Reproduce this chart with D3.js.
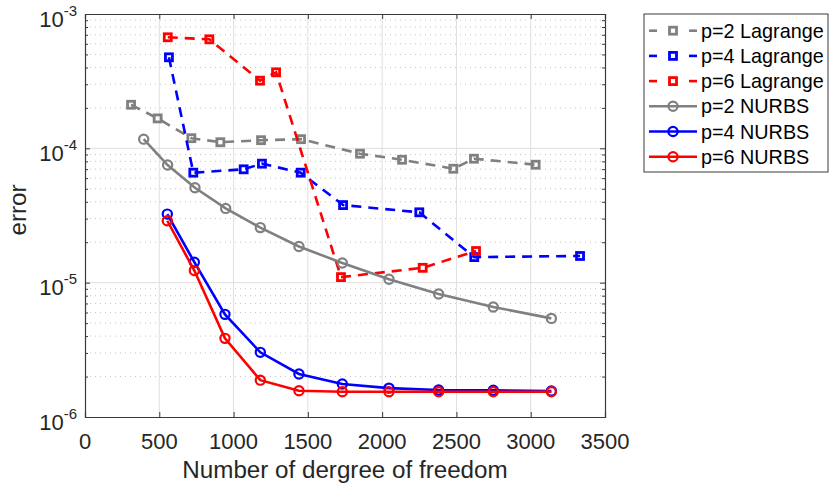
<!DOCTYPE html>
<html>
<head>
<meta charset="utf-8">
<script src="https://cdn.jsdelivr.net/npm/d3@7"></script>
<style>
  html, body { margin: 0; padding: 0; background: #fff; }
  svg { display: block; font-family: "Liberation Sans", Arial, Helvetica, sans-serif; }
</style>
</head>
<body>
<svg id="chart" width="829" height="489"></svg>
<script>
// ---- Data ----
const lag2X = [310, 489, 716, 911, 1185, 1454, 1851, 2134, 2479, 2618, 3033];
const lag2Y = [2.11e-4, 1.67e-4, 1.19e-4, 1.11e-4, 1.15e-4, 1.17e-4, 9.12e-5, 8.22e-5, 7.05e-5, 8.37e-5, 7.55e-5];
const lag4X = [565, 729, 1068, 1191, 1452, 1737, 2250, 2620, 3332];
const lag4Y = [4.76e-4, 6.59e-5, 6.98e-5, 7.69e-5, 6.59e-5, 3.78e-5, 3.34e-5, 1.55e-5, 1.58e-5];
const lag6X = [557, 837, 1178, 1286, 1723, 2273, 2632];
const lag6Y = [6.71e-4, 6.48e-4, 3.19e-4, 3.68e-4, 1.10e-5, 1.29e-5, 1.72e-5];
const nurbs2X = [395, 556, 740, 947, 1180, 1440, 1732, 2046, 2380, 2748, 3139];
const nurbs2Y = [1.17e-4, 7.51e-5, 5.09e-5, 3.57e-5, 2.57e-5, 1.86e-5, 1.40e-5, 1.06e-5, 8.24e-6, 6.59e-6, 5.42e-6];
const nurbs46X = [554, 736, 942, 1180, 1440, 1732, 2046, 2380, 2748, 3139];
const nurbs4Y = [3.24e-5, 1.42e-5, 5.81e-6, 3.03e-6, 2.09e-6, 1.76e-6, 1.64e-6, 1.59e-6, 1.58e-6, 1.56e-6];
const nurbs6Y = [2.89e-5, 1.23e-5, 3.85e-6, 1.88e-6, 1.57e-6, 1.54e-6, 1.54e-6, 1.54e-6, 1.54e-6, 1.54e-6];

const seriesNames = ["p=2 Lagrange", "p=4 Lagrange", "p=6 Lagrange", "p=2 NURBS", "p=4 NURBS", "p=6 NURBS"];
const xTicks = [0, 500, 1000, 1500, 2000, 2500, 3000, 3500];
const yTickExps = [-3, -4, -5, -6];
const xLabel = "Number of dergree of freedom";
const yLabel = "error";

const series = [
  { name: seriesNames[0], x: lag2X, y: lag2Y, color: "#808080", dashed: true, marker: "square" },
  { name: seriesNames[1], x: lag4X, y: lag4Y, color: "#0000ff", dashed: true, marker: "square" },
  { name: seriesNames[2], x: lag6X, y: lag6Y, color: "#ff0000", dashed: true, marker: "square" },
  { name: seriesNames[3], x: nurbs2X, y: nurbs2Y, color: "#808080", dashed: false, marker: "circle" },
  { name: seriesNames[4], x: nurbs46X, y: nurbs4Y, color: "#0000ff", dashed: false, marker: "circle" },
  { name: seriesNames[5], x: nurbs46X, y: nurbs6Y, color: "#ff0000", dashed: false, marker: "circle" }
];

// ---- Layout ----
const L = 85, R = 605, T = 14, B = 417;
const svg = d3.select("#chart");
const x = d3.scaleLinear().domain([0, 3500]).range([L, R]);
const y = d3.scaleLog().domain([1e-6, 1e-3]).range([B, T]);

const axisColor = "#3a3a3a";
const textColor = "#262626";

// grid
const grid = svg.append("g");
const minorVals = [];
for (let e = -6; e < -3; e++) for (let m = 2; m <= 9; m++) minorVals.push(m * Math.pow(10, e));
grid.selectAll("line.minor").data(minorVals).enter().append("line")
  .attr("x1", L).attr("x2", R).attr("y1", d => y(d)).attr("y2", d => y(d))
  .attr("stroke", "#c4c4c4").attr("stroke-width", 1).attr("stroke-dasharray", "1,4");
grid.selectAll("line.mx").data(xTicks.slice(1, -1)).enter().append("line")
  .attr("x1", d => x(d)).attr("x2", d => x(d)).attr("y1", T).attr("y2", B)
  .attr("stroke", "#dfdfdf").attr("stroke-width", 1);
grid.selectAll("line.my").data(yTickExps.slice(1, -1)).enter().append("line")
  .attr("x1", L).attr("x2", R).attr("y1", d => y(Math.pow(10, d))).attr("y2", d => y(Math.pow(10, d)))
  .attr("stroke", "#dfdfdf").attr("stroke-width", 1);

// axes via d3 axis (inward ticks)
const xAxisB = d3.axisBottom(x).tickValues(xTicks).tickSize(-5).tickFormat("");
const xAxisT = d3.axisTop(x).tickValues(xTicks).tickSize(-5).tickFormat("");
const yMajor = yTickExps.map(e => Math.pow(10, e));
const yAxisL = d3.axisLeft(y).tickValues(yMajor).tickSize(-5).tickFormat("");
const yAxisR = d3.axisRight(y).tickValues(yMajor).tickSize(-5).tickFormat("");
const yAxisLm = d3.axisLeft(y).tickValues(minorVals).tickSize(-3).tickFormat("");
const yAxisRm = d3.axisRight(y).tickValues(minorVals).tickSize(-3).tickFormat("");

function styleAxis(g) {
  g.selectAll("path").attr("stroke", axisColor).attr("stroke-width", 1.2);
  g.selectAll("line").attr("stroke", axisColor).attr("stroke-width", 1);
}
svg.append("g").attr("transform", `translate(0,${B})`).call(xAxisB).call(styleAxis);
svg.append("g").attr("transform", `translate(0,${T})`).call(xAxisT).call(styleAxis);
svg.append("g").attr("transform", `translate(${L},0)`).call(yAxisL).call(styleAxis);
svg.append("g").attr("transform", `translate(${R},0)`).call(yAxisR).call(styleAxis);
svg.append("g").attr("transform", `translate(${L},0)`).call(yAxisLm).call(styleAxis).select("path").remove();
svg.append("g").attr("transform", `translate(${R},0)`).call(yAxisRm).call(styleAxis).select("path").remove();

// x tick labels
svg.append("g").selectAll("text").data(xTicks).enter().append("text")
  .attr("x", d => x(d)).attr("y", 449)
  .attr("text-anchor", "middle").attr("font-size", 22).attr("fill", textColor)
  .text(d => d);

// y tick labels (10^e)
const yl = svg.append("g").selectAll("text").data(yTickExps).enter().append("text")
  .attr("x", 77).attr("y", d => y(Math.pow(10, d)) + 12.7)
  .attr("text-anchor", "end").attr("font-size", 22).attr("fill", textColor);
yl.append("tspan").text("10");
yl.append("tspan").attr("dy", -11).attr("font-size", 15).text(d => String(d).replace("\u2212", "-"));

// axis labels
svg.append("text").attr("x", (L + R) / 2).attr("y", 478)
  .attr("text-anchor", "middle").attr("font-size", 24.2).attr("fill", textColor).text(xLabel);
svg.append("text").attr("transform", `translate(26,210) rotate(-90)`)
  .attr("text-anchor", "middle").attr("font-size", 24.2).attr("fill", textColor).text(yLabel);

// series
const lineGen = d3.line().x(d => x(d[0])).y(d => y(d[1]));
const plot = svg.append("g");
function drawMarker(g, m, cx, cy, color) {
  if (m === "square") {
    g.append("rect").attr("x", cx - 3.5).attr("y", cy - 3.5).attr("width", 7).attr("height", 7)
      .attr("fill", "none").attr("stroke", color).attr("stroke-width", 2.8);
  } else {
    g.append("circle").attr("cx", cx).attr("cy", cy).attr("r", 4.6)
      .attr("fill", "none").attr("stroke", color).attr("stroke-width", 2.2);
  }
}
series.forEach(s => {
  const pts = s.x.map((v, i) => [v, s.y[i]]);
  const g = plot.append("g");
  g.append("path").datum(pts).attr("d", lineGen)
    .attr("fill", "none").attr("stroke", s.color).attr("stroke-width", 2.6)
    .attr("stroke-dasharray", s.dashed ? "10,7" : null);
  pts.forEach(p => drawMarker(g, s.marker, x(p[0]), y(p[1]), s.color));
});

// legend
const lg = svg.append("g");
lg.append("rect").attr("x", 644).attr("y", 14).attr("width", 184).attr("height", 158)
  .attr("fill", "#fff").attr("stroke", axisColor).attr("stroke-width", 1);
const rowY = d3.scaleLinear().domain([0, 5]).range([30.7, 156.7]);
series.forEach((s, i) => {
  const ry = rowY(i);
  if (s.dashed) {
    lg.append("line").attr("x1", 649).attr("x2", 657).attr("y1", ry).attr("y2", ry)
      .attr("stroke", s.color).attr("stroke-width", 2.6);
    lg.append("line").attr("x1", 689).attr("x2", 697).attr("y1", ry).attr("y2", ry)
      .attr("stroke", s.color).attr("stroke-width", 2.6);
  } else {
    lg.append("line").attr("x1", 649).attr("x2", 697).attr("y1", ry).attr("y2", ry)
      .attr("stroke", s.color).attr("stroke-width", 2.6);
  }
  drawMarker(lg, s.marker, 673, ry, s.color);
  lg.append("text").attr("x", 701).attr("y", ry + 7)
    .attr("font-size", 19.8).attr("fill", "#000").text(s.name);
});
</script>
</body>
</html>
